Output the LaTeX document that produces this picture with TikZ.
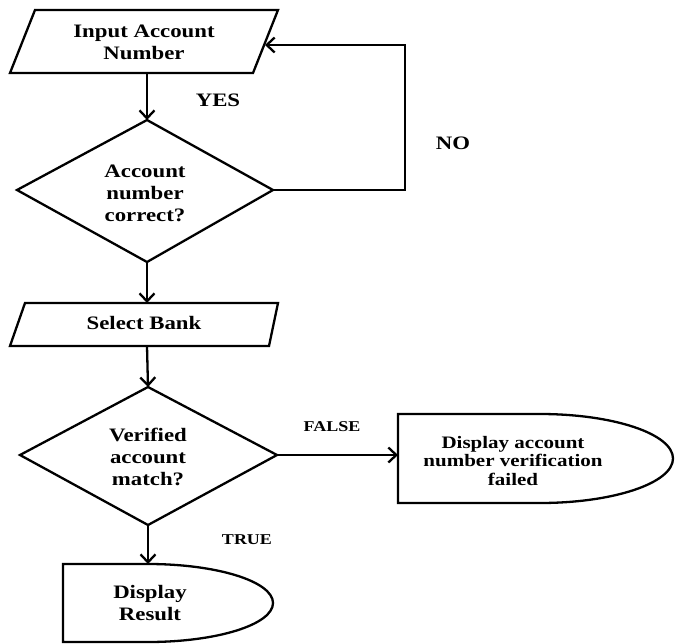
\documentclass[tikz,border=0pt]{standalone}
\usepackage{fontspec}
\setmainfont{Liberation Serif}[FakeStretch=1.2]
\usetikzlibrary{arrows.meta}

\tikzset{
  shapeline/.style={draw=black, line width=2.3pt, line join=miter},
  flow/.style={draw=black, line width=2.3pt, -{Straight Barb[length=8pt, width=15pt, line width=2.3pt]}},
  boxtext/.style={align=center, font=\fontsize{19}{22}\selectfont\bfseries, inner sep=0pt},
  smalltext/.style={align=center, font=\fontsize{17.5}{18.5}\selectfont\bfseries, inner sep=0pt},
  tag/.style={font=\fontsize{19}{22}\selectfont\bfseries, inner sep=0pt},
  smalltag/.style={font=\fontsize{15}{18}\selectfont\bfseries, inner sep=0pt},
}

\begin{document}
\begin{tikzpicture}[x=1pt, y=-1pt]
\useasboundingbox (0,0) rectangle (675,643);

% input parallelogram
\draw[shapeline] (35,10) -- (278,10) -- (253,73) -- (10,73) -- cycle;
\node[boxtext] (input) at (144,42) {Input Account\\Number};
\coordinate (input-s) at (147,73);
\coordinate (input-e) at (265,45);

% first decision
\draw[shapeline] (147,120) -- (273,190) -- (147,262) -- (17,190) -- cycle;
\node[boxtext] (check) at (145,193) {Account\\number\\correct?};
\coordinate (check-n) at (147,120);
\coordinate (check-e) at (273,190);
\coordinate (check-s) at (147,262);
\coordinate (loop-a) at (405,190);
\coordinate (loop-b) at (405,45);

% select bank parallelogram
\draw[shapeline] (25,303) -- (278,303) -- (269,346) -- (10,346) -- cycle;
\node[boxtext] (bank) at (144,323) {Select Bank};
\coordinate (bank-n) at (147,303);
\coordinate (bank-s) at (147,346);

% second decision
\draw[shapeline] (148,387) -- (277,455) -- (148,525) -- (20,455) -- cycle;
\node[boxtext] (verify) at (148,457) {Verified\\account\\match?};
\coordinate (verify-n) at (148,387);
\coordinate (verify-e) at (277,455);
\coordinate (verify-s) at (148,525);

% failure display
\draw[shapeline] (398,414) -- (540,414)
  arc[start angle=-90, end angle=90, x radius=133, y radius=44.5]
  -- (398,503) -- cycle;
\node[smalltext] (fail) at (513,461) {Display account\\number verification\\failed};
\coordinate (fail-w) at (398,455);

% result display
\draw[shapeline] (63,564) -- (148,564)
  arc[start angle=-90, end angle=90, x radius=125, y radius=39]
  -- (63,642) -- cycle;
\node[boxtext] (result) at (150,603) {Display\\Result};
\coordinate (result-n) at (148,564);

% connectors
\draw[flow] (input-s) -- (check-n);
\draw[flow] (check-e) -- (loop-a) -- (loop-b) -- (input-e);
\draw[flow] (check-s) -- (bank-n);
\draw[flow] (bank-s) -- (verify-n);
\draw[flow] (verify-e) -- (fail-w);
\draw[flow] (verify-s) -- (result-n);

% branch labels
\node[tag] (yes) at (218,100) {YES};
\node[tag] (no) at (453,143) {NO};
\node[smalltag] (false) at (332,427) {FALSE};
\node[smalltag] (true) at (247,540) {TRUE};
\end{tikzpicture}
\end{document}
